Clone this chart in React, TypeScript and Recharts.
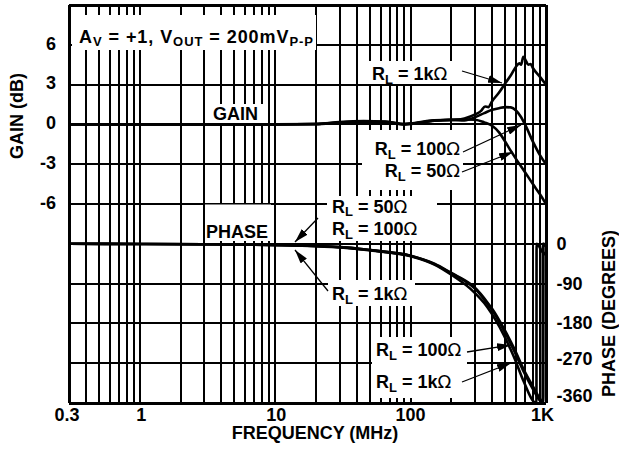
import React from 'react';
import { LineChart, Line, XAxis, YAxis, ReferenceLine } from 'recharts';

const FONT = '"Liberation Sans", Arial, Helvetica, sans-serif';

// ---------- data ----------
const freqTicks = [0.3, 1, 10, 100, 1000];
const freqTickLabels = ['0.3', '1', '10', '100', '1K'];
const gainTicks = [6, 3, 0, -3, -6];
const phaseTicks = [0, -90, -180, -270, -360];
const gridFreqs = [
  0.4, 0.5, 0.6, 0.7, 0.8, 0.9, 1, 2, 3, 4, 5, 6, 7, 8, 9, 10, 20, 30, 40, 50, 60, 70, 80, 90,
  100, 200, 300, 400, 500, 600, 700, 800, 900,
];
const gridGains = [6, 3, 0, -3, -6, -9, -12, -15, -18];
const gainDomain = [-21, 9];
const phaseDomain = [-360, 540];
const freqDomain = [0.3, 1000];

// gain (dB) vs frequency (MHz)
const gain50 = [
  [0.3, 0], [1, 0], [3, 0], [10, 0], [20, 0.02], [30, 0.1], [45, 0.15], [65, 0.15], [90, 0.0],
  [110, 0.08], [150, 0.28], [200, 0.35], [250, 0.38], [300, 0.35], [350, 0.15], [400, -0.1],
  [450, -0.6], [500, -1.3], [550, -2.0], [600, -2.6], [700, -3.6], [800, -4.5], [900, -5.25],
  [1000, -6.0],
];
const gain100 = [
  [0.3, 0], [1, 0], [3, 0], [10, 0], [20, 0.03], [30, 0.15], [45, 0.22], [65, 0.2], [90, 0.02],
  [110, 0.1], [150, 0.3], [200, 0.35], [250, 0.3], [300, 0.55], [350, 0.85], [400, 1.1],
  [450, 1.22], [500, 1.3], [550, 1.28], [600, 1.05], [650, 0.6], [700, 0.0], [800, -1.3],
  [900, -2.3], [1000, -3.0],
];
const gain1k = [
  [0.3, 0], [1, 0], [3, 0], [10, 0], [20, 0.03], [30, 0.18], [45, 0.25], [65, 0.22], [90, 0.02],
  [110, 0.12], [150, 0.3], [200, 0.32], [250, 0.45], [300, 0.75], [330, 1.0], [355, 1.35],
  [375, 1.3], [400, 1.75], [450, 2.4], [500, 3.1], [550, 3.7], [600, 4.35], [635, 4.6],
  [655, 4.5], [680, 5.1], [710, 4.8], [740, 4.5], [770, 4.55], [800, 4.25], [900, 3.6],
  [1000, 3.0],
];

// phase (degrees) vs frequency (MHz), wrapped at -360
const phase50 = [
  [0.3, 0], [1, -0.5], [3, -1], [10, -2.5], [20, -5], [32, -8], [57, -16], [100, -27],
  [150, -45], [200, -66], [277, -91], [300, -100], [368, -132], [400, -147], [489, -192],
  [580, -236], [686, -285], [812, -326], [910, -352], [955, -360], [957, 0], [1000, -4],
];
const phase100 = [
  [0.3, 0], [1, -0.5], [3, -1], [10, -2.5], [20, -5], [32, -8], [57, -16], [100, -27],
  [150, -46], [200, -67], [277, -93], [300, -102], [368, -135], [400, -150], [489, -196],
  [580, -241], [686, -290], [812, -332], [910, -356], [945, -360], [947, 0], [1000, -6],
];
const phase1k = [
  [0.3, 0], [1, -0.5], [3, -1.2], [10, -3], [20, -5.5], [32, -9], [57, -17], [100, -28],
  [150, -47], [200, -70], [277, -102], [368, -143], [489, -207], [580, -256], [686, -312],
  [812, -357], [850, -360], [852, 0], [940, -18], [1000, -25],
];

const pts = (a: number[][]) => a.map(([f, v]) => ({ f, v }));

// ---------- styles ----------
const INK = '#000';
const tickFont = { fontFamily: FONT, fontSize: 18, fontWeight: 700, fill: INK };

const xTickShift = [-2, 1.5, 1, 0, -3.5];
const XTick = (p: any) => {
  const i = freqTicks.indexOf(p.payload.value);
  return (
    <text x={p.x + (xTickShift[i] ?? 0)} y={p.y - 1} dy="0.71em" textAnchor="middle" {...tickFont}>
      {freqTickLabels[i] ?? p.payload.value}
    </text>
  );
};
const LeftTick = (p: any) => (
  <text x={p.x} y={p.y - 1.5} dy="0.355em" textAnchor="end" {...tickFont}>
    {p.payload.value}
  </text>
);
const phaseShift: Record<string, number> = { '0': 0, '-90': 0, '-180': -1, '-270': -4.5, '-360': -7 };
const RightTick = (p: any) => (
  <text x={p.x} y={p.y + (phaseShift[String(p.payload.value)] ?? 0)} dy="0.355em" textAnchor="start" {...tickFont}>
    {p.payload.value}
  </text>
);

const Arrow = ({ x1, y1, x2, y2 }: { x1: number; y1: number; x2: number; y2: number }) => (
  <line x1={x1} y1={y1} x2={x2} y2={y2} stroke={INK} strokeWidth={1.3} markerEnd="url(#ah)" />
);

const RL = ({ x, y, val, anchor }: { x: number; y: number; val: string; anchor?: string }) => (
  <text x={x} y={y} textAnchor={anchor as any} fontFamily={FONT} fontSize={18} fontWeight={700} fill={INK}>
    R
    <tspan fontSize={13} dy={3.5}>L</tspan>
    <tspan dy={-3.5}>{` = ${val}`}</tspan>
    <tspan fontFamily='"DejaVu Sans", sans-serif' fontWeight={400} fontSize={18}>Ω</tspan>
  </text>
);

export default function App() {
  const lineProps = {
    type: 'monotone' as const,
    dataKey: 'v',
    stroke: INK,
    strokeWidth: 2.6,
    dot: false,
    activeDot: false,
    isAnimationActive: false,
  };
  const gridProps = { stroke: INK, strokeWidth: 2, yAxisId: 'gain', shapeRendering: 'crispEdges' } as any;
  const frameProps = { stroke: INK, strokeWidth: 3, yAxisId: 'gain', shapeRendering: 'crispEdges' } as any;
  return (
    <div style={{ position: 'fixed', left: 0, top: 0, width: 619, height: 450, background: '#fff' }}>
      <LineChart width={619} height={450} margin={{ top: 5, right: 13, bottom: 17, left: 9 }}>
        <XAxis
          type="number"
          dataKey="f"
          scale="log"
          domain={freqDomain}
          allowDataOverflow
          ticks={freqTicks}
          interval={0}
          axisLine={false}
          tickLine={false}
          tickMargin={0}
          height={30}
          tick={<XTick />}
        />
        <YAxis
          yAxisId="gain"
          type="number"
          domain={gainDomain}
          allowDataOverflow
          ticks={gainTicks}
          interval={0}
          axisLine={false}
          tickLine={false}
          tickMargin={7}
          width={60}
          tick={<LeftTick />}
        />
        <YAxis
          yAxisId="phase"
          orientation="right"
          type="number"
          domain={phaseDomain}
          allowDataOverflow
          ticks={phaseTicks}
          interval={0}
          axisLine={false}
          tickLine={false}
          tickMargin={4.5}
          width={60}
          tick={<RightTick />}
        />
        {gridFreqs.map((f) => (
          <ReferenceLine key={'vf' + f} x={f} {...gridProps} />
        ))}
        {gridGains.map((g) => (
          <ReferenceLine key={'hg' + g} y={g} {...gridProps} />
        ))}
        <ReferenceLine x={freqDomain[0]} {...frameProps} />
        <ReferenceLine x={freqDomain[1]} {...frameProps} />
        <ReferenceLine y={gainDomain[0]} {...frameProps} />
        <ReferenceLine y={gainDomain[1]} {...frameProps} />

        <Line {...lineProps} yAxisId="gain" data={pts(gain50)} name="Gain RL=50Ω" />
        <Line {...lineProps} yAxisId="gain" data={pts(gain100)} name="Gain RL=100Ω" />
        <Line {...lineProps} yAxisId="gain" data={pts(gain1k)} name="Gain RL=1kΩ" />
        <Line {...lineProps} yAxisId="phase" data={pts(phase50)} name="Phase RL=50Ω" />
        <Line {...lineProps} yAxisId="phase" data={pts(phase100)} name="Phase RL=100Ω" />
        <Line {...lineProps} yAxisId="phase" data={pts(phase1k)} name="Phase RL=1kΩ" />
      </LineChart>

      <svg width={619} height={450} style={{ position: 'absolute', left: 0, top: 0, pointerEvents: 'none' }}>
        <defs>
          <marker id="ah" markerUnits="userSpaceOnUse" markerWidth={15} markerHeight={8} refX={14} refY={4} orient="auto">
            <path d="M0,0 L14,4 L0,8 Z" fill={INK} />
          </marker>
        </defs>

        {/* axis titles */}
        <text x={23.2} y={116} transform="rotate(-90 23.2 116)" textAnchor="middle" fontFamily={FONT} fontSize={18} fontWeight={700} fill={INK}>
          GAIN (dB)
        </text>
        <text x={614.5} y={313.5} transform="rotate(-90 614.5 313.5)" textAnchor="middle" fontFamily={FONT} fontSize={18} fontWeight={700} fill={INK}>
          PHASE (DEGREES)
        </text>
        <text x={315} y={439.2} textAnchor="middle" fontFamily={FONT} fontSize={18} fontWeight={700} fill={INK}>
          FREQUENCY (MHz)
        </text>

        {/* white label boxes */}
        <rect x={72} y={15} width={244} height={35} fill="#fff" />
        <rect x={210} y={104} width={53} height={19} fill="#fff" />
        <rect x={205} y={204.5} width={66} height={36.5} fill="#fff" />
        <rect x={367} y={61} width={95} height={23} fill="#fff" />
        <rect x={362} y={130} width={101} height={60} fill="#fff" />
        <rect x={327} y={196} width={110} height={45} fill="#fff" />
        <rect x={328} y={280} width={87} height={26} fill="#fff" />
        <rect x={372} y={337} width={95} height={61} fill="#fff" />

        {/* conditions */}
        <text x={79} y={42.5} textLength={234} lengthAdjust="spacing" fontFamily={FONT} fontSize={18} fontWeight={700} fill={INK}>
          A
          <tspan fontSize={13} dy={3}>V</tspan>
          <tspan dy={-3}> = +1, V</tspan>
          <tspan fontSize={13} dy={3}>OUT</tspan>
          <tspan dy={-3}> = 200mV</tspan>
          <tspan fontSize={13} dy={3}>P-P</tspan>
        </text>

        <text x={213} y={120} fontFamily={FONT} fontSize={18} fontWeight={700} fill={INK}>GAIN</text>
        <text x={206} y={238} fontFamily={FONT} fontSize={18} fontWeight={700} fill={INK}>PHASE</text>

        <RL x={372} y={80} val="1k" />
        <RL x={460} y={155} val="100" anchor="end" />
        <RL x={460} y={177} val="50" anchor="end" />
        <RL x={332} y={212.5} val="50" />
        <RL x={332} y={235} val="100" />
        <RL x={332} y={300} val="1k" />
        <RL x={376} y={356} val="100" />
        <RL x={376} y={388} val="1k" />

        <Arrow x1={462} y1={71} x2={502} y2={83} />
        <Arrow x1={463} y1={152} x2={521} y2={125} />
        <Arrow x1={462} y1={172} x2={513} y2={152} />
        <Arrow x1={318} y1={218} x2={295} y2={242} />
        <Arrow x1={328} y1={291} x2={295} y2={250} />
        <Arrow x1={467} y1={352} x2={511} y2={345} />
        <Arrow x1={462} y1={382} x2={511} y2={363} />
      </svg>
    </div>
  );
}
